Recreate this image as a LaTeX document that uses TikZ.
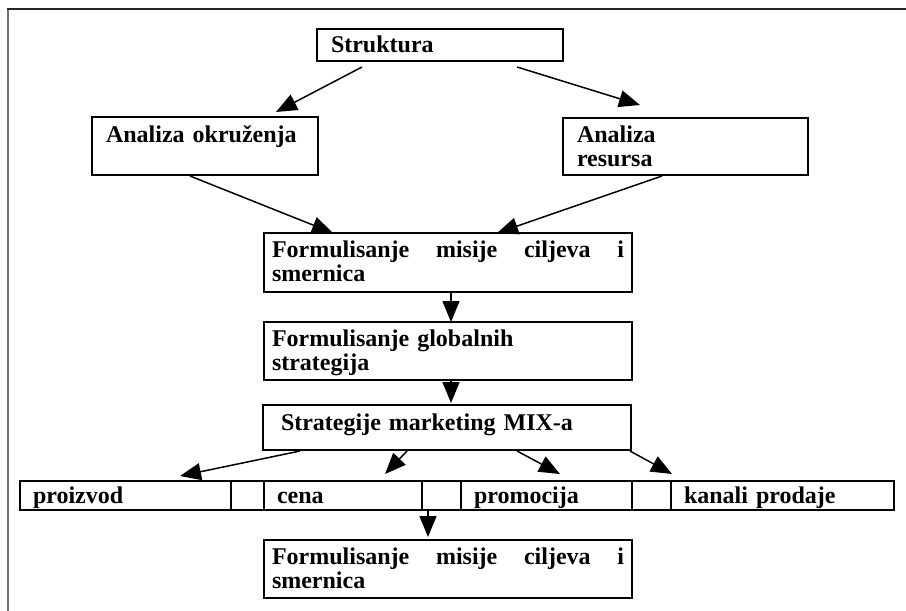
\documentclass[tikz,border=0pt]{standalone}
\usepackage{fontspec}
\setmainfont{Liberation Serif}
\usetikzlibrary{arrows.meta,positioning}

\begin{document}
\begin{tikzpicture}[x=1pt,y=-1pt,
    box/.style={draw,line width=1.5pt,inner ysep=0pt,outer sep=0pt,align=left,
                font=\fontsize{24}{24.5}\selectfont\bfseries},
    wide/.style={box,inner xsep=8pt,text width=352pt,text height=24pt,text depth=34pt},
    cell/.style={box,inner xsep=13pt,text height=22pt,text depth=7pt},
    arr/.style={-{Triangle[length=21pt,width=17pt]},line width=1.5pt}]
\useasboundingbox (0,0) rectangle (906,611);
\draw[line width=2pt,black!55]   (8,611) -- (8,9);
\draw[line width=1.5pt,black!85] (7,9)   -- (906,9);

\node [box,below right,inner xsep=14pt,text width=218pt,text height=23pt,text depth=9pt]
      (strukt) at (317,29)  {Struktura};
\node [box,below right,inner xsep=14pt,text width=198pt,text height=25pt,text depth=33pt]
      (analok) at ( 92,117) {Analiza okruženja};
\node [box,below right,inner xsep=14pt,text width=217pt,text height=24pt,text depth=33pt]
      (analres) at (563,118) {Analiza\\resursa};
\node [wide,below right,text depth=35pt]
      (form1)  at (264,233) {Formulisanje\hfill misije\hfill ciljeva\hfill i\\smernica};
\node [wide,below right]
      (glob)   at (264,322) {Formulisanje globalnih\\strategija};
\node [box,below right,inner xsep=18pt,text width=332pt,text height=25pt,text depth=20pt]
      (mix)    at (263,405) {Strategije marketing MIX-a};

\node [cell,below right,text width=185pt] (proizvod) at (20,481)     {proizvod};
\node [cell,text width=7pt,   right=0pt of proizvod] (gap1)      {};
\node [cell,text width=132pt, right=0pt of gap1]     (cena)      {cena};
\node [cell,text width=13pt,  right=0pt of cena]     (gap2)      {};
\node [cell,text width=145pt, right=0pt of gap2]     (promocija) {promocija};
\node [cell,text width=13pt,  right=0pt of promocija] (gap3)     {};
\node [cell,text width=197pt, right=0pt of gap3]     (kanali)    {kanali prodaje};

\node [wide,below right]
      (form2)  at (264,540) {Formulisanje\hfill misije\hfill ciljeva\hfill i\\smernica};

\draw[arr] ([xshift=45pt,yshift=-6pt]strukt.south west)  -- ([xshift=-42pt,yshift=5pt]analok.north east);
\draw[arr] ([xshift=-46pt,yshift=-6pt]strukt.south east) -- ([xshift=77pt,yshift=13pt]analres.north west);
\draw[arr] ([xshift=98pt,yshift=-1pt]analok.south west)  -- ([xshift=69pt]form1.north west);
\draw[arr] ([xshift=99pt,yshift=-1pt]analres.south west) -- ([xshift=233pt]form1.north west);
\draw[arr] ([xshift=187pt]form1.south west) -- ([xshift=187pt]glob.north west);
\draw[arr] ([xshift=187pt]glob.south west)  -- ([xshift=188pt,yshift=2pt]mix.north west);

\draw[arr] ([xshift=37pt,yshift=-1pt]mix.south west)  -- ([xshift=160pt,yshift=5pt]proizvod.north west);
\draw[arr] ([xshift=144pt,yshift=-1pt]mix.south west) -- ([xshift=121pt,yshift=7pt]cena.north west);
\draw[arr] ([xshift=254pt,yshift=-1pt]mix.south west) -- ([xshift=99pt,yshift=7pt]promocija.north west);
\draw[arr] ([xshift=367pt,yshift=-1pt]mix.south west) -- ([xshift=1pt,yshift=7pt]kanali.north west);
\draw[arr] ([xshift=6pt]gap2.south west) -- ([xshift=164pt,yshift=3pt]form2.north west);
\end{tikzpicture}
\end{document}
